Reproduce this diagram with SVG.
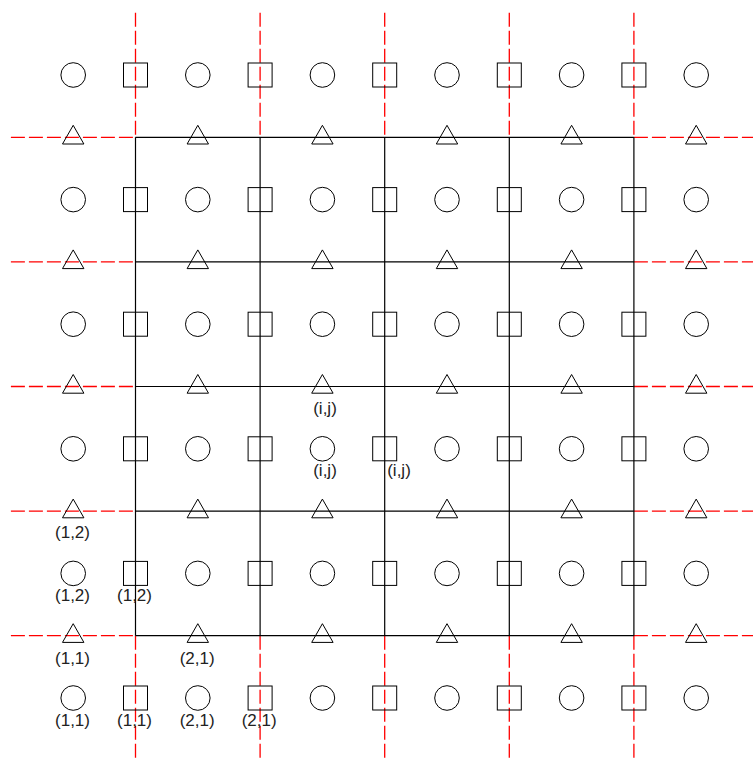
<svg xmlns="http://www.w3.org/2000/svg" xmlns:xlink="http://www.w3.org/1999/xlink" width="753" height="758" viewBox="0 0 753 758">
<style>
.s{fill:none;stroke:#000;stroke-width:1}
.grid{fill:none;stroke:#000;stroke-width:1.2}
.red{fill:none;stroke:#ff0000;stroke-width:1.3;stroke-dasharray:14 4}
.t{font-family:"Liberation Sans",Arial,sans-serif;font-size:17px;fill:#222;text-anchor:middle}
</style>
<defs>
<circle id="c" cx="0" cy="0" r="12.3" class="s"/>
<rect id="q" x="-12" y="-12" width="24" height="24" class="s"/>
<polygon id="tr" points="0,-12 10.7,6.7 -10.7,6.7" class="s"/>
</defs>
<rect width="753" height="758" fill="#fff"/>
<g id="connectors">
<g id="red-lines">
<path class="red" d="M135.5,12.7V137.3M260.1,12.7V137.3M384.7,12.7V137.3M509.3,12.7V137.3M633.9,12.7V137.3"/>
<path class="red" d="M135.5,635.7V760M260.1,635.7V760M384.7,635.7V760M509.3,635.7V760M633.9,635.7V760"/>
<path class="red" d="M10.9,137.3H135.5M10.9,261.9H135.5M10.9,386.5H135.5M10.9,511.1H135.5M10.9,635.7H135.5"/>
<path class="red" d="M633.9,137.3H758.5M633.9,261.9H758.5M633.9,386.5H758.5M633.9,511.1H758.5M633.9,635.7H758.5"/>
</g>
<g id="grid">
<path class="grid" d="M135.5,137.3H633.9M135.5,261.9H633.9M135.5,386.5H633.9M135.5,511.1H633.9M135.5,635.7H633.9"/>
<path class="grid" d="M135.5,137.3V635.7M260.1,137.3V635.7M384.7,137.3V635.7M509.3,137.3V635.7M633.9,137.3V635.7"/>
</g>
</g>
<g id="circles">
<g id="c11"><use href="#c" x="73.2" y="75"/></g><g id="c12"><use href="#c" x="197.8" y="75"/></g><g id="c13"><use href="#c" x="322.4" y="75"/></g><g id="c14"><use href="#c" x="447" y="75"/></g><g id="c15"><use href="#c" x="571.6" y="75"/></g><g id="c16"><use href="#c" x="696.2" y="75"/></g>
<g id="c21"><use href="#c" x="73.2" y="199.6"/></g><g id="c22"><use href="#c" x="197.8" y="199.6"/></g><g id="c23"><use href="#c" x="322.4" y="199.6"/></g><g id="c24"><use href="#c" x="447" y="199.6"/></g><g id="c25"><use href="#c" x="571.6" y="199.6"/></g><g id="c26"><use href="#c" x="696.2" y="199.6"/></g>
<g id="c31"><use href="#c" x="73.2" y="324.2"/></g><g id="c32"><use href="#c" x="197.8" y="324.2"/></g><g id="c33"><use href="#c" x="322.4" y="324.2"/></g><g id="c34"><use href="#c" x="447" y="324.2"/></g><g id="c35"><use href="#c" x="571.6" y="324.2"/></g><g id="c36"><use href="#c" x="696.2" y="324.2"/></g>
<g id="c41"><use href="#c" x="73.2" y="448.8"/></g><g id="c42"><use href="#c" x="197.8" y="448.8"/></g><g id="c43"><use href="#c" x="322.4" y="448.8"/></g><g id="c44"><use href="#c" x="447" y="448.8"/></g><g id="c45"><use href="#c" x="571.6" y="448.8"/></g><g id="c46"><use href="#c" x="696.2" y="448.8"/></g>
<g id="c51"><use href="#c" x="73.2" y="573.4"/></g><g id="c52"><use href="#c" x="197.8" y="573.4"/></g><g id="c53"><use href="#c" x="322.4" y="573.4"/></g><g id="c54"><use href="#c" x="447" y="573.4"/></g><g id="c55"><use href="#c" x="571.6" y="573.4"/></g><g id="c56"><use href="#c" x="696.2" y="573.4"/></g>
<g id="c61"><use href="#c" x="73.2" y="698"/></g><g id="c62"><use href="#c" x="197.8" y="698"/></g><g id="c63"><use href="#c" x="322.4" y="698"/></g><g id="c64"><use href="#c" x="447" y="698"/></g><g id="c65"><use href="#c" x="571.6" y="698"/></g><g id="c66"><use href="#c" x="696.2" y="698"/></g>
</g>
<g id="squares">
<g id="q11"><use href="#q" x="135.5" y="75"/></g><g id="q12"><use href="#q" x="260.1" y="75"/></g><g id="q13"><use href="#q" x="384.7" y="75"/></g><g id="q14"><use href="#q" x="509.3" y="75"/></g><g id="q15"><use href="#q" x="633.9" y="75"/></g>
<g id="q21"><use href="#q" x="135.5" y="199.6"/></g><g id="q22"><use href="#q" x="260.1" y="199.6"/></g><g id="q23"><use href="#q" x="384.7" y="199.6"/></g><g id="q24"><use href="#q" x="509.3" y="199.6"/></g><g id="q25"><use href="#q" x="633.9" y="199.6"/></g>
<g id="q31"><use href="#q" x="135.5" y="324.2"/></g><g id="q32"><use href="#q" x="260.1" y="324.2"/></g><g id="q33"><use href="#q" x="384.7" y="324.2"/></g><g id="q34"><use href="#q" x="509.3" y="324.2"/></g><g id="q35"><use href="#q" x="633.9" y="324.2"/></g>
<g id="q41"><use href="#q" x="135.5" y="448.8"/></g><g id="q42"><use href="#q" x="260.1" y="448.8"/></g><g id="q43"><use href="#q" x="384.7" y="448.8"/></g><g id="q44"><use href="#q" x="509.3" y="448.8"/></g><g id="q45"><use href="#q" x="633.9" y="448.8"/></g>
<g id="q51"><use href="#q" x="135.5" y="573.4"/></g><g id="q52"><use href="#q" x="260.1" y="573.4"/></g><g id="q53"><use href="#q" x="384.7" y="573.4"/></g><g id="q54"><use href="#q" x="509.3" y="573.4"/></g><g id="q55"><use href="#q" x="633.9" y="573.4"/></g>
<g id="q61"><use href="#q" x="135.5" y="698"/></g><g id="q62"><use href="#q" x="260.1" y="698"/></g><g id="q63"><use href="#q" x="384.7" y="698"/></g><g id="q64"><use href="#q" x="509.3" y="698"/></g><g id="q65"><use href="#q" x="633.9" y="698"/></g>
</g>
<g id="triangles">
<g id="t11"><use href="#tr" x="73.2" y="137.3"/></g><g id="t12"><use href="#tr" x="197.8" y="137.3"/></g><g id="t13"><use href="#tr" x="322.4" y="137.3"/></g><g id="t14"><use href="#tr" x="447" y="137.3"/></g><g id="t15"><use href="#tr" x="571.6" y="137.3"/></g><g id="t16"><use href="#tr" x="696.2" y="137.3"/></g>
<g id="t21"><use href="#tr" x="73.2" y="261.9"/></g><g id="t22"><use href="#tr" x="197.8" y="261.9"/></g><g id="t23"><use href="#tr" x="322.4" y="261.9"/></g><g id="t24"><use href="#tr" x="447" y="261.9"/></g><g id="t25"><use href="#tr" x="571.6" y="261.9"/></g><g id="t26"><use href="#tr" x="696.2" y="261.9"/></g>
<g id="t31"><use href="#tr" x="73.2" y="386.5"/></g><g id="t32"><use href="#tr" x="197.8" y="386.5"/></g><g id="t33"><use href="#tr" x="322.4" y="386.5"/></g><g id="t34"><use href="#tr" x="447" y="386.5"/></g><g id="t35"><use href="#tr" x="571.6" y="386.5"/></g><g id="t36"><use href="#tr" x="696.2" y="386.5"/></g>
<g id="t41"><use href="#tr" x="73.2" y="511.1"/></g><g id="t42"><use href="#tr" x="197.8" y="511.1"/></g><g id="t43"><use href="#tr" x="322.4" y="511.1"/></g><g id="t44"><use href="#tr" x="447" y="511.1"/></g><g id="t45"><use href="#tr" x="571.6" y="511.1"/></g><g id="t46"><use href="#tr" x="696.2" y="511.1"/></g>
<g id="t51"><use href="#tr" x="73.2" y="635.7"/></g><g id="t52"><use href="#tr" x="197.8" y="635.7"/></g><g id="t53"><use href="#tr" x="322.4" y="635.7"/></g><g id="t54"><use href="#tr" x="447" y="635.7"/></g><g id="t55"><use href="#tr" x="571.6" y="635.7"/></g><g id="t56"><use href="#tr" x="696.2" y="635.7"/></g>
</g>
<g id="labels">
<text class="t" x="325" y="413.6">(i,j)</text>
<text class="t" x="325" y="476">(i,j)</text>
<text class="t" x="399" y="476">(i,j)</text>
<text class="t" x="72.5" y="538.3">(1,2)</text>
<text class="t" x="72.5" y="601.3">(1,2)</text>
<text class="t" x="134.5" y="601.3">(1,2)</text>
<text class="t" x="72.5" y="664.3">(1,1)</text>
<text class="t" x="197.2" y="664.3">(2,1)</text>
<text class="t" x="72.5" y="725.8">(1,1)</text>
<text class="t" x="134.5" y="725.8">(1,1)</text>
<text class="t" x="197.2" y="725.8">(2,1)</text>
<text class="t" x="259.2" y="725.8">(2,1)</text>
</g>
</svg>
